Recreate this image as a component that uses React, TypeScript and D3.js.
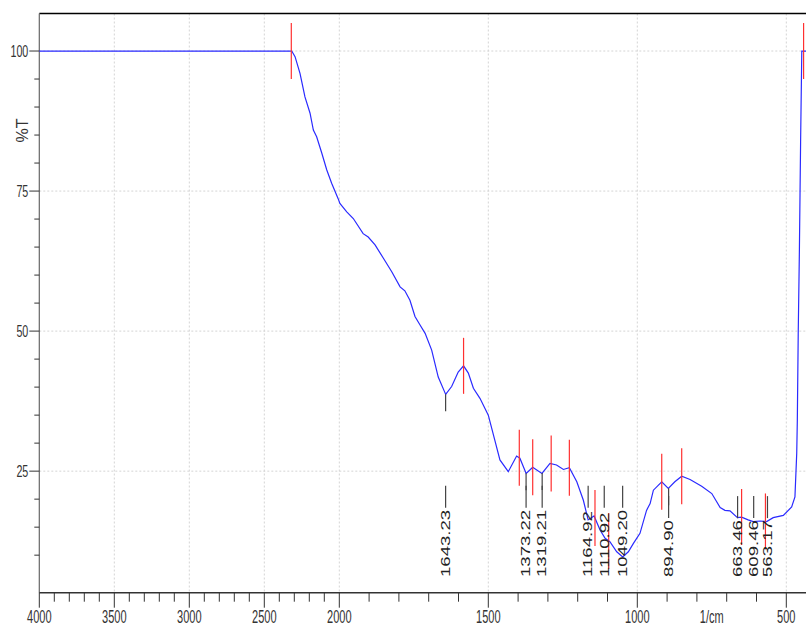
import React from "react";
import * as d3 from "d3";

const wavenumbers = [4000, 2317, 2295, 2262, 2229, 2195, 2173, 2151, 2117, 2084,
  2051, 2007, 1998, 1975, 1953, 1920, 1903, 1880, 1852, 1824,
  1796, 1780, 1763, 1746, 1729, 1712, 1690, 1668, 1643, 1623,
  1601, 1583, 1567, 1550, 1528, 1500, 1478, 1461, 1433, 1405,
  1394, 1373, 1351, 1320, 1293, 1271, 1248, 1228, 1203, 1181,
  1165, 1145, 1125, 1108, 1092, 1069, 1049, 1030, 1013, 991,
  969, 957, 946, 918, 896, 874, 851, 823, 784, 750,
  722, 706, 689, 664, 650, 628, 611, 588, 566, 544,
  510, 482, 471, 465, 463, 460, 456, 452, 448, 400];

const transmittance = [100, 100, 99.0, 96.0, 91.8, 88.9, 85.9, 84.7, 81.8, 78.8,
  76.4, 73.6, 72.8, 71.3, 70.1, 67.4, 66.8, 65.4, 63.0, 60.6,
  57.9, 57.2, 55.5, 52.6, 51.1, 49.6, 46.6, 41.8, 38.7, 40.1,
  42.7, 43.8, 42.5, 39.8, 38.0, 35.0, 30.5, 27.0, 24.9, 27.7,
  27.3, 24.6, 25.7, 24.6, 26.4, 26.1, 25.3, 25.6, 23.1, 19.8,
  16.3, 17.0, 14.5, 13.0, 12.4, 10.6, 9.7, 10.6, 12.1, 13.9,
  18.0, 19.2, 21.6, 23.1, 21.9, 23.1, 24.1, 23.5, 22.3, 21.0,
  18.5, 18.0, 17.9, 16.7, 16.8, 16.3, 16.0, 16.1, 16.0, 16.7,
  17.1, 18.6, 20.4, 28.2, 34.1, 49.5, 64.6, 83.8, 100, 100];

const peakLabels = [1643.23, 1373.22, 1319.21, 1164.92, 1110.92, 1049.2, 894.9, 663.46, 609.46, 563.17];
const maxMarkers = [2320, 1583, 1396, 1351, 1289, 1228, 1142, 1096, 918, 851, 650, 570, 442];

const xMajorTicks = [4000, 3500, 3000, 2500, 2000, 1500, 1000, 500];
const xMinorTicks = d3.range(4000, 399, -100);
const yMajorTicks = [100, 75, 50, 25];
const yMinorTicks = d3.range(10, 100, 5);
const xUnitLabel = "1/cm";
const yAxisLabel = "%T";

const W = 806;
const H = 626;
const FONT = "'Liberation Sans', Arial, sans-serif";

const x = d3.scaleLinear().domain([4000, 2000, 400]).range([39.3, 339.3, 816.1]);
const y = d3.scaleLinear().domain([3.3, 106.7]).range([592.7, 13.5]);

const pts: [number, number][] = wavenumbers.map((w, i) => [w, transmittance[i]]);

function tAt(v: number): number {
  for (let i = 0; i < wavenumbers.length - 1; i++) {
    const a = wavenumbers[i], b = wavenumbers[i + 1];
    if (v <= a && v >= b) {
      const t = (a - v) / (a - b);
      return transmittance[i] + t * (transmittance[i + 1] - transmittance[i]);
    }
  }
  return 100;
}

export default function App() {
  const line = d3.line<[number, number]>().x((d) => x(d[0])).y((d) => y(d[1]));
  const top = y(106.7);
  const bottom = y(3.3);
  const left = x(4000);
  const labelBase = 577;
  const labelFont = 12;
  const labelStretch = 1.55;
  const axisScale = 0.63;
  const xLabelBase = 622.5;

  return (
    <div style={{ position: "absolute", left: 0, top: 0 }}>
      <svg width={W} height={H} style={{ display: "block", background: "#fff" }}>
        <rect x={0} y={0} width={W} height={H} fill="#fff" />
        {/* grid */}
        {xMajorTicks.filter((t) => t !== 4000).map((t) => (
          <line key={"gx" + t} x1={x(t)} x2={x(t)} y1={top} y2={bottom} stroke="#d4d4d4" strokeDasharray="2,2" strokeWidth={1} />
        ))}
        {yMajorTicks.map((t) => (
          <line key={"gy" + t} x1={left} x2={W} y1={y(t)} y2={y(t)} stroke="#d4d4d4" strokeDasharray="2,2" strokeWidth={1} />
        ))}

        {/* frame */}
        <line x1={left} x2={W} y1={top} y2={top} stroke="#000" strokeWidth={1.6} />
        <line x1={left} x2={left} y1={top} y2={bottom} stroke="#666" strokeWidth={1.2} />
        <line x1={left} x2={W} y1={bottom} y2={bottom} stroke="#333" strokeWidth={1.5} />

        {/* x ticks */}
        {xMinorTicks.map((t) => (
          <line key={"xm" + t} x1={x(t)} x2={x(t)} y1={bottom} y2={xMajorTicks.includes(t) ? bottom + 15 : bottom + 9} stroke="#333" strokeWidth={1} />
        ))}
        {xMajorTicks.map((t) => (
          <g key={"xl" + t} transform={`translate(${x(t)},${xLabelBase}) scale(${axisScale},1)`}>
            <text textAnchor="middle" fontFamily={FONT} fontSize={17.5} fill="#333">{t}</text>
          </g>
        ))}
        <g transform={`translate(${x(750)},${xLabelBase}) scale(${axisScale},1)`}>
          <text textAnchor="middle" fontFamily={FONT} fontSize={17.5} fill="#333">{xUnitLabel}</text>
        </g>

        {/* y ticks */}
        {yMinorTicks.map((t) => (
          <line key={"ym" + t} x1={yMajorTicks.includes(t) ? left - 10 : left - 5} x2={left} y1={y(t)} y2={y(t)} stroke="#333" strokeWidth={1} />
        ))}
        <line x1={left - 10} x2={left} y1={y(100)} y2={y(100)} stroke="#333" strokeWidth={1} />
        {yMajorTicks.map((t) => (
          <g key={"yl" + t} transform={`translate(28.3,${y(t)}) scale(${axisScale},1)`}>
            <text textAnchor="end" dy="0.36em" fontFamily={FONT} fontSize={17} fill="#333">{t}</text>
          </g>
        ))}
        <text transform="translate(22.5,130.5) rotate(-90)" textAnchor="middle" dy="0.36em" fontFamily={FONT} fontSize={16} fill="#333">{yAxisLabel}</text>

        {/* spectrum */}
        <path d={line(pts) || ""} fill="none" stroke="#2a2aff" strokeWidth={1.2} />

        {/* maxima markers */}
        {maxMarkers.map((m) => {
          const cy = y(tAt(m));
          return <line key={"mx" + m} x1={x(m)} x2={x(m)} y1={cy - 28} y2={cy + 28} stroke="#ff3030" strokeWidth={1.2} />;
        })}

        {/* labelled minima */}
        {peakLabels.map((p) => {
          const label = p.toFixed(2);
          const px = x(p);
          const cy = y(tAt(p));
          const len = (label.length - 1) * 0.556 * labelFont * labelStretch + 0.278 * labelFont * labelStretch;
          const labelTop = labelBase - len;
          const segEnd = Math.min(cy + 17, labelTop - 2);
          return (
            <g key={"pk" + p}>
              {cy < labelTop - 2 && (
                <line x1={px} x2={px} y1={cy} y2={segEnd} stroke="#444" strokeWidth={1.2} />
              )}
              <line x1={px} x2={px} y1={labelTop - 24} y2={labelTop - 2} stroke="#444" strokeWidth={1.2} />
              <g transform={`translate(${px},${labelBase}) rotate(-90) scale(${labelStretch},1)`}>
                <text textAnchor="start" dy="0.36em" fontFamily={FONT} fontSize={labelFont} fill="#222">{label}</text>
              </g>
            </g>
          );
        })}
      </svg>
    </div>
  );
}
